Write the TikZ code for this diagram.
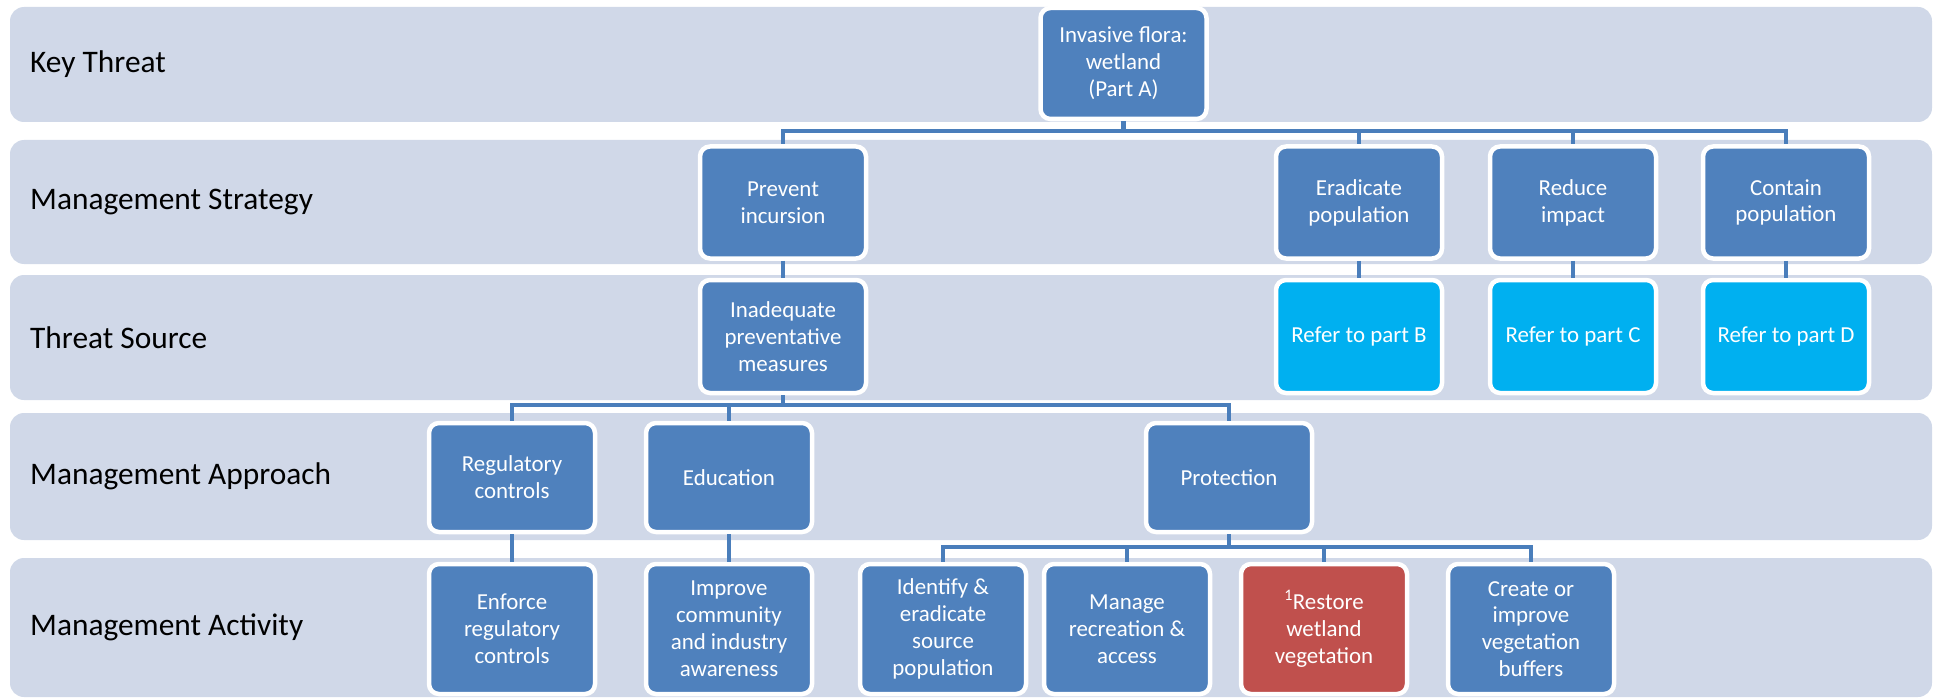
\documentclass[tikz,border=0pt]{standalone}
\usepackage{fontspec}
\setmainfont{Carlito}
\definecolor{bandfill}{HTML}{D0D8E8}
\definecolor{boxblue}{HTML}{4F81BD}
\definecolor{refcyan}{HTML}{00B0F0}
\definecolor{boxred}{HTML}{C0504D}
\definecolor{linkblue}{HTML}{4A7EBB}
\tikzset{
  band/.style={fill=bandfill, draw=none, rounded corners=14bp},
  rowlabel/.style={anchor=west, inner sep=0pt, text=black,
    font=\fontsize{31.5}{36}\selectfont},
  box/.style={fill=boxblue, draw=white, line width=4.5bp, rounded corners=10bp,
    minimum width=166bp, inner sep=0pt, align=center, text=white,
    font=\fontsize{23}{27}\selectfont},
  refbox/.style={box, fill=refcyan},
  redbox/.style={box, fill=boxred},
  conn/.style={draw=linkblue, line width=4.5bp},
}
\begin{document}
\begin{tikzpicture}[x=1bp, y=-1bp]
\useasboundingbox (0,0) rectangle (1935,698);

% horizontal rows
\path[band] (10,7)   rectangle (1932,122);
\path[band] (10,140) rectangle (1932,264);
\path[band] (10,275) rectangle (1932,400);
\path[band] (10,413) rectangle (1932,540);
\path[band] (10,558) rectangle (1932,697);

\node[rowlabel] (lkey)  at (30,64.5)  {Key Threat};
\node[rowlabel] (lstr)  at (30,202)   {Management Strategy};
\node[rowlabel] (lsrc)  at (30,337.5) {Threat Source};
\node[rowlabel] (lapp)  at (30,476.5) {Management Approach};
\node[rowlabel] (lact)  at (30,627.5) {Management Activity};

% key threat
\node[box, minimum height=111bp] (inv) at (1123.5,63.5) {Invasive flora:\\wetland\\(Part A)};

% management strategies
\node[box, minimum height=112bp] (prev) at (783,202.5)  {Prevent\\incursion};
\node[box, minimum height=112bp] (erad) at (1359,202.5) {Eradicate\\population};
\node[box, minimum height=112bp] (redu) at (1573,202.5) {Reduce\\impact};
\node[box, minimum height=112bp] (cont) at (1786,202.5) {Contain\\population};

% threat sources
\node[box, minimum height=113bp]    (inad) at (783,336.5)  {Inadequate\\preventative\\measures};
\node[refbox, minimum height=113bp] (refb) at (1359,336.5) {Refer to part B};
\node[refbox, minimum height=113bp] (refc) at (1573,336.5) {Refer to part C};
\node[refbox, minimum height=113bp] (refd) at (1786,336.5) {Refer to part D};

% management approaches
\node[box, minimum height=109bp] (regc) at (512,477.5)  {Regulatory\\controls};
\node[box, minimum height=109bp] (educ) at (729,477.5)  {Education};
\node[box, minimum height=109bp] (prot) at (1229,477.5) {Protection};

% management activities
\node[box, minimum height=130bp]    (enf)  at (512,629)  {Enforce\\regulatory\\controls};
\node[box, minimum height=130bp]    (impr) at (729,629)  {Improve\\community\\and industry\\awareness};
\node[box, minimum height=130bp]    (iden) at (943,629)  {Identify \&\\eradicate\\source\\population};
\node[box, minimum height=130bp]    (mana) at (1127,629) {Manage\\recreation \&\\access};
\node[redbox, minimum height=130bp] (rest) at (1324,629) {\textsuperscript{1}Restore\\wetland\\vegetation};
\node[box, minimum height=130bp]    (crea) at (1531,629) {Create or\\improve\\vegetation\\buffers};

% connector levels
\coordinate (bara) at (0,131);
\coordinate (barb) at (0,405);
\coordinate (barc) at (0,547);

% tree connectors
\foreach \c in {prev,erad,redu,cont}
  \draw[conn] (inv.south) -- (inv.south |- bara) -| (\c.north);
\draw[conn] (prev.south) -- (inad.north);
\draw[conn] (erad.south) -- (refb.north);
\draw[conn] (redu.south) -- (refc.north);
\draw[conn] (cont.south) -- (refd.north);
\foreach \c in {regc,educ,prot}
  \draw[conn] (inad.south) -- (inad.south |- barb) -| (\c.north);
\draw[conn] (regc.south) -- (enf.north);
\draw[conn] (educ.south) -- (impr.north);
\foreach \c in {iden,mana,rest,crea}
  \draw[conn] (prot.south) -- (prot.south |- barc) -| (\c.north);
\end{tikzpicture}
\end{document}
